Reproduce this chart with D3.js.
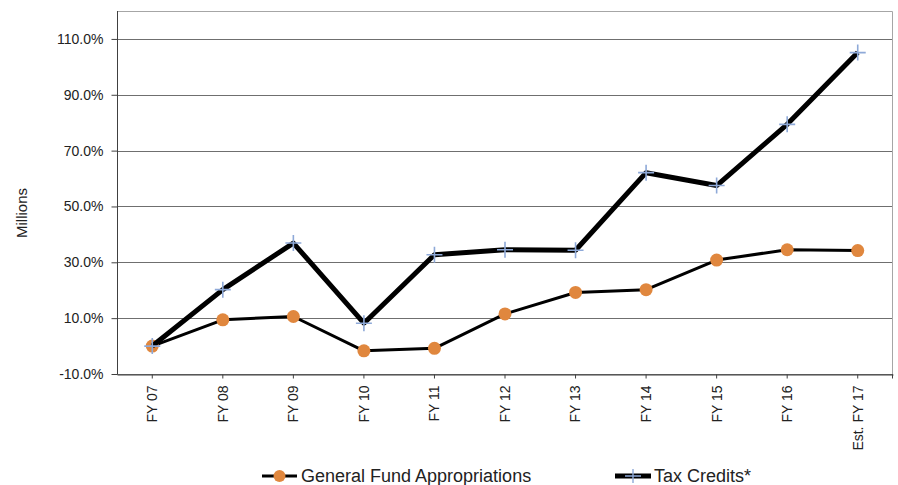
<!DOCTYPE html>
<html>
<head>
<meta charset="utf-8">
<script src="https://cdn.jsdelivr.net/npm/d3@7"></script>
<style>
  body { margin: 0; background: #fff; }
  svg { font-family: "Liberation Sans", Arial, sans-serif; }
</style>
</head>
<body>
<svg id="chart"></svg>
<script>
// data (percent)
let years = ["FY 07", "FY 08", "FY 09", "FY 10", "FY 11", "FY 12", "FY 13", "FY 14", "FY 15", "FY 16", "Est. FY 17"];
let generalFund = [0, 9.4, 10.6, -1.7, -0.8, 11.5, 19.2, 20.2, 30.8, 34.5, 34.2];
let taxCredits = [0, 20.2, 36.9, 8.2, 32.7, 34.5, 34.3, 62.1, 57.5, 79.4, 105.1];
let yTicks = [-10, 10, 30, 50, 70, 90, 110];

let w = 898;
let h = 485;
let margin = { top: 11, right: 5, bottom: 111, left: 117 };
let font = '"Liberation Sans", Arial, sans-serif';

let svg = d3.select("#chart").attr("width", w).attr("height", h);

let xScale = d3
  .scaleBand()
  .domain(years)
  .range([margin.left, w - margin.right]);
let xPos = (d) => xScale(d) + xScale.bandwidth() / 2;

let yScale = d3
  .scaleLinear()
  .domain([-10, 120])
  .range([h - margin.bottom, margin.top]);

// gridlines
svg
  .append("g")
  .selectAll("line")
  .data(yTicks)
  .enter()
  .append("line")
  .attr("x1", margin.left)
  .attr("x2", w - margin.right)
  .attr("y1", (d) => Math.round(yScale(d)) + 0.5)
  .attr("y2", (d) => Math.round(yScale(d)) + 0.5)
  .attr("stroke", "#6f6f6f")
  .attr("stroke-width", 1);

// plot border (top / right)
svg
  .append("path")
  .attr("d", `M${margin.left},${margin.top + 0.5}H${w - margin.right - 0.5}V${h - margin.bottom}`)
  .attr("fill", "none")
  .attr("stroke", "#a6a6a6")
  .attr("stroke-width", 1);

// y axis
let yAxis = d3
  .axisLeft(yScale)
  .tickValues(yTicks)
  .tickFormat((d) => d.toFixed(1) + "%")
  .tickSize(6)
  .tickPadding(8);
let gy = svg
  .append("g")
  .attr("transform", `translate(${margin.left + 0.5},0)`)
  .call(yAxis)
  .attr("font-family", font)
  .attr("font-size", 14);
gy.select(".domain").attr("stroke", "#404040").attr("d", `M0,${margin.top}V${h - margin.bottom}`);
gy.selectAll(".tick line").attr("stroke", "#404040");
gy.selectAll("text").attr("fill", "#222");

// x axis
let xAxis = d3.axisBottom(xScale).tickSize(4).tickSizeOuter(0).tickPadding(7);
let gx = svg
  .append("g")
  .attr("transform", `translate(0,${Math.round(yScale(-10)) + 0.5})`)
  .call(xAxis)
  .attr("font-family", font)
  .attr("font-size", 14);
gx.select(".domain").attr("stroke", "#404040");
gx.selectAll(".tick line").attr("stroke", "#404040");
gx.append("line")
  .attr("x1", w - margin.right - 0.5)
  .attr("x2", w - margin.right - 0.5)
  .attr("y1", 0)
  .attr("y2", 4)
  .attr("stroke", "#404040");
gx.selectAll(".tick text")
  .attr("fill", "#222")
  .attr("text-anchor", "end")
  .attr("dy", "0.35em")
  .attr("transform", "rotate(-90)")
  .attr("x", -11)
  .attr("y", 0);

// y label
svg
  .append("text")
  .attr("transform", `translate(27,213) rotate(-90)`)
  .attr("text-anchor", "middle")
  .style("font-size", "15px")
  .attr("fill", "#222")
  .text("Millions");

let line = d3
  .line()
  .x((d, i) => xPos(years[i]))
  .y((d) => yScale(d));

// general fund series
svg
  .append("path")
  .datum(generalFund)
  .attr("d", line)
  .attr("fill", "none")
  .attr("stroke", "#000")
  .attr("stroke-width", 3)
  .attr("stroke-linejoin", "round");
svg
  .append("g")
  .selectAll("circle")
  .data(generalFund)
  .enter()
  .append("circle")
  .attr("cx", (d, i) => xPos(years[i]))
  .attr("cy", (d) => yScale(d))
  .attr("r", 6.5)
  .attr("fill", "#e0873e");

// tax credits series
svg
  .append("path")
  .datum(taxCredits)
  .attr("d", line)
  .attr("fill", "none")
  .attr("stroke", "#000")
  .attr("stroke-width", 5)
  .attr("stroke-linejoin", "round");
svg
  .append("g")
  .selectAll("path")
  .data(taxCredits)
  .enter()
  .append("path")
  .attr("d", "M-8,0H8M0,-8V8")
  .attr("transform", (d, i) => `translate(${xPos(years[i])},${yScale(d)})`)
  .attr("stroke", "#8ea9d8")
  .attr("stroke-width", 1.6)
  .attr("fill", "none");

// legend
let legendY = 476;
let lg1 = svg.append("g").attr("transform", `translate(262,${legendY})`);
lg1.append("line").attr("x1", 0).attr("x2", 35).attr("stroke", "#000").attr("stroke-width", 3);
lg1.append("circle").attr("cx", 17.5).attr("r", 6).attr("fill", "#e0873e");
lg1.append("text")
  .attr("x", 39)
  .attr("y", 0)
  .attr("dy", "0.35em")
  .style("font-size", "18px")
  .attr("fill", "#222")
  .text("General Fund Appropriations");

let lg2 = svg.append("g").attr("transform", `translate(615,${legendY})`);
lg2.append("line").attr("x1", 0).attr("x2", 36).attr("stroke", "#000").attr("stroke-width", 5);
lg2.append("path").attr("d", "M10,0H26M18,-7V7").attr("stroke", "#8ea9d8").attr("stroke-width", 1.4);
lg2.append("text")
  .attr("x", 39)
  .attr("y", 0)
  .attr("dy", "0.35em")
  .style("font-size", "18px")
  .attr("fill", "#222")
  .text("Tax Credits*");
</script>
</body>
</html>
